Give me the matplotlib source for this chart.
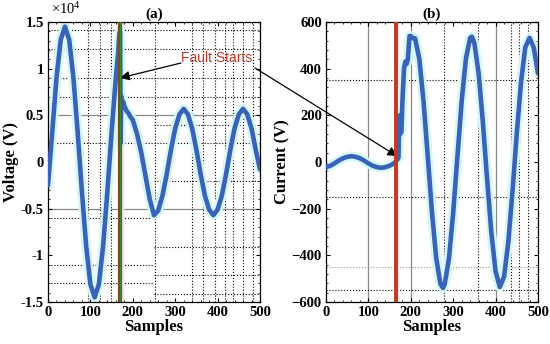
import matplotlib
matplotlib.use("Agg")
import matplotlib.pyplot as plt
from matplotlib.ticker import FuncFormatter, MultipleLocator, AutoMinorLocator

plt.rcParams['font.family'] = 'Liberation Serif'
plt.rcParams['font.weight'] = 'bold'
plt.rcParams['mathtext.fontset'] = 'custom'
plt.rcParams['mathtext.rm'] = 'Liberation Serif'

# voltage panel (a), values in V
v_samples = [0, 10, 20, 30, 40, 50, 60, 70, 80, 90, 100, 110, 120, 130, 140, 150,
             160, 165, 168, 170, 171, 173, 175, 177, 180, 185, 190, 195, 200, 210,
             220, 230, 240, 250, 260, 270, 280, 290, 300, 310, 320, 330, 340, 350,
             360, 370, 380, 390, 400, 410, 420, 430, 440, 450, 460, 470, 480, 490, 500]
voltage = [-2500, 3200, 9000, 13100, 14500, 13100, 9000, 3200, -3200, -9000, -13100,
           -14500, -13100, -9000, -3200, 3200, 9000, 11500, 13500, 14000, 2000, 7000,
           6000, 6500, 6000, 5500, 5200, 4800, 4500, 3000, 1000, -1500, -4000, -5700,
           -5200, -3600, -1300, 1300, 3600, 5100, 5700, 5100, 3600, 1300, -1300, -3600,
           -5100, -5700, -5100, -3600, -1300, 1300, 3600, 5100, 5700, 5100, 3600, 1300,
           -800]

# current panel (b)
i_samples = [0, 10, 20, 30, 40, 50, 60, 70, 80, 90, 100, 110, 120, 130, 140, 150,
             160, 165, 169, 171, 172, 174, 175, 178, 180, 184, 187, 190, 193, 197,
             200, 205, 210, 220, 230, 240, 250, 260, 270, 276, 280, 290, 300, 310,
             320, 330, 340, 344, 350, 360, 370, 380, 390, 400, 410, 420, 430, 440,
             450, 460, 470, 480, 490, 500]
current = [-22, -16, -6, 6, 16, 22, 25, 22, 16, 6, -6, -16, -22, -25, -22, -16, -6,
           3, 12, 20, 130, 200, 120, 130, 250, 400, 430, 420, 440, 540, 540, 530, 530,
           443, 261, 24, -217, -413, -523, -540, -523, -413, -217, 24, 261, 443, 532,
           537, 509, 380, 170, -74, -303, -469, -536, -491, -343, -123, 123, 343, 491,
           532, 490, 380]

fault_a = 170
fault_b = 166

blue = '#3a62b8'
halo = '#d4f7f7'

fig = plt.figure(figsize=(5.5, 3.44), dpi=100)
ax1 = fig.add_axes([48 / 550, 42 / 344, 212 / 550, 280 / 344])
ax2 = fig.add_axes([326 / 550, 42 / 344, 212 / 550, 280 / 344])

# ---- panel (a) grid
for x in [95, 123, 148, 252, 339, 366, 394, 417, 437, 461, 484]:
    ax1.axvline(x, color='k', ls=':', lw=0.8, zorder=0)
for y, a, b in [(14100, 0, 1), (12100, 0, 1), (9000, 0, 1), (7000, 0, 1),
                (4000, 0.5, 1), (2000, 0, 1), (-2000, 0.5, 1), (-6000, 0, 0.5),
                (-9100, 0.5, 1), (-11000, 0, 0.5), (-12100, 0.5, 1),
                (-13000, 0, 0.5), (-14100, 0.5, 1)]:
    ax1.axhline(y, a, b, color='k', ls=':', lw=0.8, zorder=0)
for y in [5000, -5000]:
    ax1.axhline(y, color='#888888', lw=0.9, zorder=0)

ax1.axvspan(fault_a - 6, fault_a + 6, color='#ffdcef', zorder=1)
ax1.plot(v_samples, voltage, color=halo, lw=7, solid_capstyle='round', zorder=2)
ax1.plot(v_samples, voltage, color=blue, lw=3.3, solid_capstyle='round', zorder=3)
ax1.axvline(fault_a, color='#7b4b1f', lw=3, zorder=4)
ax1.axvline(fault_a, color='#2f8f2f', lw=0.8, zorder=5)

ax1.set_xlim(0, 500)
ax1.set_ylim(-15000, 15000)
ax1.yaxis.set_major_locator(MultipleLocator(5000))
ax1.yaxis.set_major_formatter(FuncFormatter(lambda v, p: '%g' % (v / 1e4)))
ax1.set_ylabel('Voltage (V)', fontsize=12, fontweight='bold', labelpad=1)
ax1.set_title('(a)', fontsize=11, fontweight='bold', pad=3)
fig.text(51 / 550, 1 - 9 / 344, r'$\mathregular{\times10^4}$', fontsize=10.5,
         va='center', fontweight='normal')

# ---- panel (b) grid
for x in [100, 200, 400]:
    ax2.axvline(x, color='#888888', lw=0.9, zorder=0)
for x in [278, 359, 436, 456, 477]:
    ax2.axvline(x, color='k', ls=':', lw=0.8, zorder=0)
for y in [350, -150, -550]:
    ax2.axhline(y, color='k', ls=':', lw=0.8, zorder=0)
ax2.axhline(-450, color='#999999', ls=':', lw=0.8, zorder=0)

ax2.axvspan(fault_b - 3, fault_b + 3, color='#ffdcef', zorder=1)
ax2.plot(i_samples, current, color=halo, lw=7, solid_capstyle='round', zorder=2)
ax2.plot(i_samples, current, color=blue, lw=3.3, solid_capstyle='round', zorder=3)
ax2.axvline(fault_b, color='#c03a20', lw=2.8, zorder=4)

ax2.set_xlim(0, 500)
ax2.set_ylim(-600, 600)
ax2.yaxis.set_major_locator(MultipleLocator(200))
ax2.set_ylabel('Current (V)', fontsize=12, fontweight='bold', labelpad=1)
ax2.set_title('(b)', fontsize=11, fontweight='bold', pad=3)

for ax in (ax1, ax2):
    ax.xaxis.set_major_locator(MultipleLocator(100))
    ax.xaxis.set_minor_locator(MultipleLocator(20))
    ax.yaxis.set_minor_locator(AutoMinorLocator(5))
    ax.tick_params(which='both', direction='in', top=True, right=True,
                   labelsize=10.5, pad=3)
    ax.tick_params(which='major', length=3)
    ax.tick_params(which='minor', length=1.5)
    ax.set_xlabel('Samples', fontsize=12, fontweight='bold', labelpad=0)
    for lab in ax.get_xticklabels() + ax.get_yticklabels():
        lab.set_fontweight('bold')
    for s in ax.spines.values():
        s.set_linewidth(0.9)

# annotation
fig.text(217 / 550, 1 - 58 / 344, 'Fault Starts', color='#c0392b', fontsize=10,
         family='Liberation Sans', fontweight='normal', ha='center', va='center')
ax1.annotate('', xy=(fault_a, 9000), xycoords='data',
             xytext=(181 / 550, 1 - 63 / 344), textcoords='figure fraction',
             arrowprops=dict(arrowstyle='-|>', color='k', lw=0.9,
                             mutation_scale=14, shrinkA=0, shrinkB=0),
             annotation_clip=False)
ax2.annotate('', xy=(fault_b + 2, 25), xycoords='data',
             xytext=(255 / 550, 1 - 68 / 344), textcoords='figure fraction',
             arrowprops=dict(arrowstyle='-|>', color='k', lw=0.9,
                             mutation_scale=14, shrinkA=0, shrinkB=0),
             annotation_clip=False)

fig.savefig('out.png', dpi=100)
